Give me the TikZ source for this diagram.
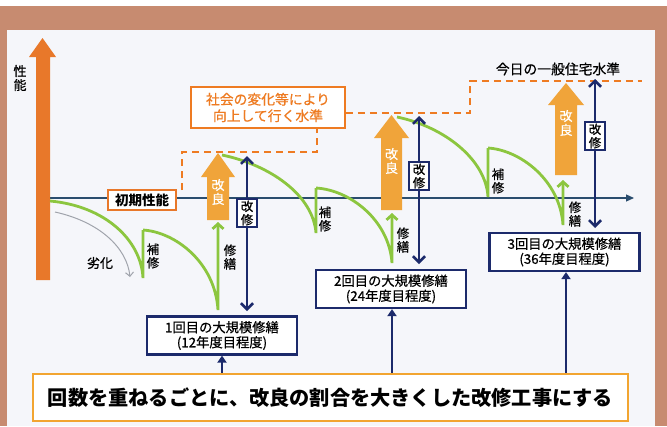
\documentclass[tikz,border=0pt]{standalone}
\usepackage{fontspec}
\setmainfont{Noto Sans CJK JP}
\newfontfamily\jpmed{Noto Sans CJK JP}[FakeBold=0.7]
\usetikzlibrary{arrows.meta}
\definecolor{frame}{HTML}{C78B70}
\definecolor{innerbg}{HTML}{F5F6FA}
\definecolor{bigorange}{HTML}{E8782A}
\definecolor{lorange}{HTML}{F0A43A}
\definecolor{dashor}{HTML}{EE7B22}
\definecolor{grn}{HTML}{8CC63F}
\definecolor{navy}{HTML}{1C2A6B}
\definecolor{axisc}{HTML}{2A4D6E}
\definecolor{gold}{HTML}{F2A531}
\definecolor{greyc}{HTML}{A0A4AC}
\tikzset{
  vtext/.style={align=center,inner sep=0pt,font=\jpmed\fontsize{12.5}{13.5}\selectfont},
  wtext/.style={align=center,inner sep=0pt,text=white,font=\jpmed\fontsize{13}{14}\selectfont},
  kbox/.style={draw=navy,line width=1.6pt,fill=white,align=center,inner sep=1.5pt,font=\jpmed\fontsize{12.5}{13.5}\selectfont,minimum width=20pt},
  nbox/.style={draw=navy,line width=2.2pt,fill=white,align=center,inner sep=0pt,minimum width=150pt,minimum height=38pt,font=\jpmed\fontsize{13.3}{15}\selectfont},
  grline/.style={draw=grn,line width=2.8pt},
  grarrow/.style={draw=grn,line width=2.8pt,-{Straight Barb[length=5pt,width=11pt]}},
  navyarr/.style={draw=navy,line width=2.6pt,{Straight Barb[length=6pt,width=12pt]}-{Straight Barb[length=6pt,width=12pt]}},
  uparr/.style={draw=navy,line width=2.4pt,-{Triangle[length=7pt,width=9pt]}},
  dashline/.style={draw=dashor,line width=2pt,dash pattern=on 7pt off 5pt},
  orarrow/.style={fill=lorange}
}
\begin{document}
\begin{tikzpicture}[x=1pt,y=-1pt]
\useasboundingbox (0,0) rectangle (667,426);
\fill[white] (0,0) rectangle (667,426);
\fill[frame] (0,6) rectangle (667,426);
\fill[innerbg] (7,30) rectangle (655,426);

% axis
\coordinate (ax0) at (50,198);
\coordinate (ax1) at (634,198);
\draw[axisc,line width=1.1pt,-{Triangle[length=8pt,width=7pt]}] (ax0) -- (ax1);

% big orange arrow
\fill[bigorange] (36,280) -- (36,57) -- (29,57) -- (42.5,38) -- (56,57) -- (50,57) -- (50,280) -- cycle;
\node[vtext,font=\jpmed\fontsize{13}{14}\selectfont] (seino) at (20,78) {性\\能};

% dashed social level line
\coordinate (d0) at (182,190);
\coordinate (d1) at (182,152);
\coordinate (d2) at (317,152);
\node[draw=dashor,line width=1.8pt,fill=white,align=center,inner sep=0pt,minimum width=154pt,minimum height=41pt,text=dashor,font=\jpmed\fontsize{13.8}{16.5}\selectfont] (social) at (268,107.5) {社会の変化等により\\向上して行く水準};
\coordinate (d3) at (317,128);
\coordinate (d4) at (470,113);
\coordinate (d5) at (470,81);
\coordinate (d6) at (642,81);
\draw[dashline] (d0) -- (d1) -- (d2) -- (d3);
\draw[dashline] (social.east |- d4) -- (d4) -- (d5) -- (d6);
\node[font=\jpmed\fontsize{13.8}{14}\selectfont,inner sep=0pt] (today) at (558,69) {今日の一般住宅水準};

% initial performance box
\node[draw=bigorange,line width=1.6pt,fill=white,inner sep=2pt,minimum width=68pt,minimum height=20pt,font=\fontsize{13.5}{14}\selectfont\bfseries] (init) at (142,200) {初期性能};

% degradation arrow
\coordinate (g0) at (55,212);
\coordinate (g1) at (130,277);
\draw[greyc,line width=1pt,-{Straight Barb[length=4pt,width=8pt]}] (g0) .. controls (100,222) and (127,248) .. (g1);
\node[vtext,font=\jpmed\fontsize{13}{14}\selectfont] (rekka) at (100,263) {劣化};

% orange improvement arrows
\fill[orarrow] (207,220) -- (207,177) -- (201,177) -- (218,153) -- (235,177) -- (229,177) -- (229,220) -- cycle;
\node[wtext] (kr1) at (218,192) {改\\良};
\fill[orarrow] (381,210) -- (381,138) -- (374,138) -- (391.5,115) -- (409,138) -- (402,138) -- (402,210) -- cycle;
\node[wtext] (kr2) at (391.5,161) {改\\良};
\fill[orarrow] (555,175) -- (555,105) -- (548,105) -- (566,83) -- (584,105) -- (577,105) -- (577,175) -- cycle;
\node[wtext] (kr3) at (566,123) {改\\良};

% green curves
\coordinate (c0) at (50,201);
\coordinate (c1) at (143,278);
\coordinate (c1t) at (143,230);
\coordinate (c2) at (218,310);
\coordinate (c2t) at (218,222);
\draw[grline] (c0) .. controls (105,206) and (141,240) .. (c1) -- (c1t);
\draw[grarrow] (c1t) .. controls (175,232) and (215,262) .. (c2) -- (c2t);

\coordinate (c3) at (222,155);
\coordinate (c4) at (316,233);
\coordinate (c4t) at (316,188);
\coordinate (c5) at (392,263);
\coordinate (c5t) at (392,213);
\draw[grline] (c3) .. controls (270,165) and (313,195) .. (c4) -- (c4t);
\draw[grarrow] (c4t) .. controls (350,190) and (389,220) .. (c5) -- (c5t);

\coordinate (c6) at (397,117);
\coordinate (c7) at (488,197);
\coordinate (c7t) at (488,148);
\coordinate (c8) at (563,225);
\coordinate (c8t) at (563,180);
\draw[grline] (c6) .. controls (445,127) and (486,160) .. (c7) -- (c7t);
\draw[grarrow] (c7t) .. controls (520,150) and (560,180) .. (c8) -- (c8t);

% labels
\node[vtext] (hs1) at (153,256) {補\\修};
\node[vtext] (hs2) at (325,219) {補\\修};
\node[vtext] (hs3) at (498,181) {補\\修};
\node[vtext] (sz1) at (230,257) {修\\繕};
\node[vtext] (sz2) at (403,240) {修\\繕};
\node[vtext] (sz3) at (575,214) {修\\繕};

% navy double arrows
\coordinate (n1t) at (247,156);
\coordinate (n1b) at (247,311);
\coordinate (n2t) at (419,116);
\coordinate (n2b) at (419,264);
\coordinate (n3t) at (595,79);
\coordinate (n3b) at (595,228);
\draw[navyarr] (n1t) -- (n1b);
\draw[navyarr] (n2t) -- (n2b);
\draw[navyarr] (n3t) -- (n3b);
\node[kbox] (kb1) at (247,213) {改\\修};
\node[kbox] (kb2) at (419,176) {改\\修};
\node[kbox] (kb3) at (595,136) {改\\修};

% repair boxes
\node[nbox] (b1) at (222,335.5) {1回目の大規模修繕\\(12年度目程度)};
\node[nbox] (b2) at (391,289) {2回目の大規模修繕\\(24年度目程度)};
\node[nbox] (b3) at (564.5,252) {3回目の大規模修繕\\(36年度目程度)};

% bottom box
\node[draw=gold,line width=2.4pt,fill=white,minimum width=595pt,minimum height=47pt,inner sep=0pt,font=\fontsize{20.2}{21}\selectfont\bfseries] (bottom) at (330.5,397.5) {回数を重ねるごとに、改良の割合を大きくした改修工事にする};

\draw[uparr] (bottom.north -| b1) -- (b1.south);
\draw[uparr] (bottom.north -| n2b) ++(-27,0) coordinate (u2) (u2) -- (u2 |- b2.south);
\draw[uparr] (bottom.north -| b3) ++(1.5,0) coordinate (u3) (u3) -- (u3 |- b3.south);
\end{tikzpicture}
\end{document}
